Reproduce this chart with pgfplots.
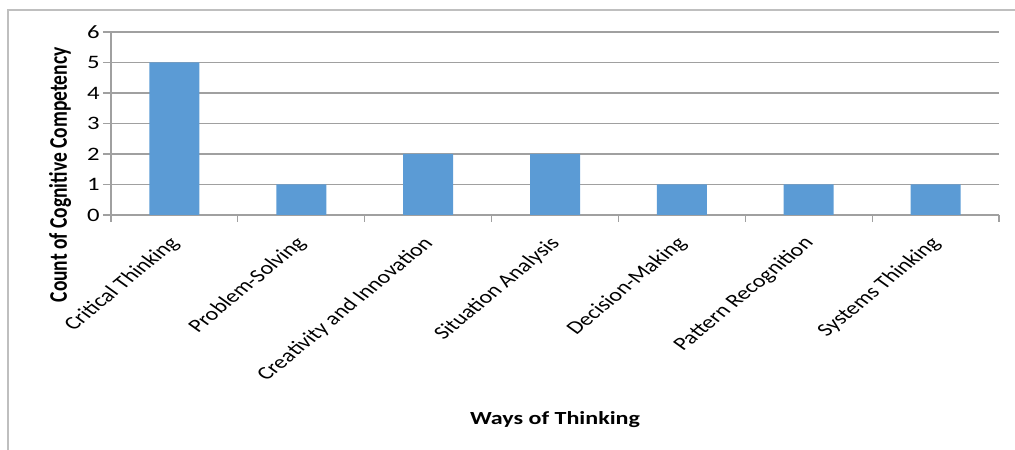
\documentclass[border=0pt]{standalone}
\usepackage{fontspec}
\setmainfont{Carlito}
\usepackage{pgfplots}
\pgfplotsset{compat=1.18}
\definecolor{barblue}{HTML}{5B9BD5}
\definecolor{gridgray}{HTML}{A0A0A0}
\definecolor{framegray}{HTML}{BFBFBF}
\begin{document}
\begin{tikzpicture}
\begin{axis}[
  name=ax,
  width=888pt, height=183pt, scale only axis,
  xmin=-0.5, xmax=6.5, ymin=0, ymax=6,
  axis lines=left,
  axis line style={draw=gridgray, line width=1.2pt, -},
  ytick={0,...,6},
  xtick={0,...,6},
  xticklabels={Critical Thinking, Problem-Solving, Creativity and Innovation, Situation Analysis, Decision-Making, Pattern Recognition, Systems Thinking},
  minor xtick={-0.5,0.5,...,6.5},
  tick align=outside,
  major tick length=8pt, minor tick length=7pt,
  major x tick style={draw=none},
  minor x tick style={draw=gridgray, line width=1.2pt},
  ytick style={draw=gridgray, line width=1.2pt},
  ymajorgrids,
  grid style={draw=gridgray, line width=1.2pt},
  /pgf/number format/assume math mode=true,
  yticklabel style={font=\fontsize{19}{21}\selectfont, xscale=1.3, xshift=1pt},
  xticklabel style={font=\fontsize{18.5}{20}\selectfont, xshift=4pt, yshift=-15pt, xscale=1.3, rotate=47, anchor=east},
  every axis y label/.style={at={(rel axis cs:-0.0574,0.219)}, anchor=center, xscale=1.3, rotate=90, font=\bfseries\fontsize{19.5}{21}\selectfont},
  every axis x label/.style={at={(rel axis cs:0.5,-1.12)}, anchor=center, xscale=1.3, font=\bfseries\fontsize{18.5}{20}\selectfont},
  ylabel={Count of Cognitive Competency},
  xlabel={Ways of Thinking},
]
\addplot[ybar, bar width=50pt, fill=barblue, draw=none] coordinates {(0,5) (1,1) (2,2) (3,2) (4,1) (5,1) (6,1)};
\end{axis}
\draw[framegray, line width=1.2pt] ([shift={(-103pt,-260pt)}]ax.south west) |- ([shift={(40pt,22pt)}]ax.north east);
\pgfresetboundingbox
\path[use as bounding box] ([shift={(-111pt,-235pt)}]ax.south west) rectangle ([shift={(16pt,32pt)}]ax.north east);
\end{tikzpicture}
\end{document}
